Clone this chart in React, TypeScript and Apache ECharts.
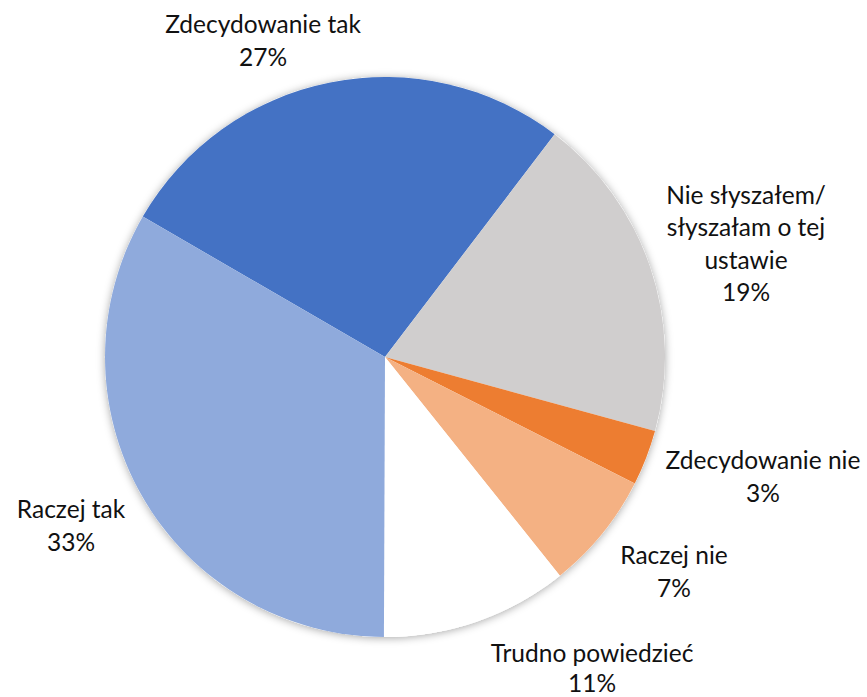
import React, { useEffect, useRef } from "react";
import * as echarts from "echarts";

const categories = [
  "Zdecydowanie tak",
  "Nie słyszałem/\nsłyszałam o tej\nustawie",
  "Zdecydowanie nie",
  "Raczej nie",
  "Trudno powiedzieć",
  "Raczej tak",
];
const values = [27.0, 18.9, 3.2, 6.8, 10.8, 33.3];
const colors = ["#4472C4", "#D0CECE", "#ED7D31", "#F4B183", "#FFFFFF", "#8FAADC"];

// label block centres relative to pie centre (layout only)
const labelOffsets: [number, number][] = [
  [-122, -317],
  [361, -114],
  [378, 119],
  [289, 214],
  [207, 310],
  [-314, 168],
];
const labelLineHeights = [32.5, 32.5, 32.5, 32.5, 30, 32.5];

const CX = 385;
const CY = 357;
const R = 280;

export default function App() {
  const ref = useRef<HTMLDivElement>(null);
  useEffect(() => {
    document.body.style.margin = "0";
    if (!ref.current) return;
    const chart = echarts.init(ref.current, undefined, { renderer: "svg" });
    const total = values.reduce((a, b) => a + b, 0);
    chart.setOption({
      animation: false,
      backgroundColor: "#ffffff",
      series: [
        {
          type: "pie",
          silent: true,
          z: 1,
          center: [CX, CY],
          radius: R,
          label: { show: false },
          labelLine: { show: false },
          itemStyle: {
            color: "#ffffff",
            shadowBlur: 9,
            shadowColor: "rgba(0,0,0,0.35)",
            shadowOffsetX: 0,
            shadowOffsetY: 1,
          },
          data: [{ value: total, name: "" }],
        },
        {
          type: "pie",
          z: 2,
          center: [CX, CY],
          radius: R,
          startAngle: 149.9,
          clockwise: true,
          percentPrecision: 0,
          itemStyle: { borderWidth: 0 },
          labelLine: { show: false },
          label: {
            show: true,
            position: "outside",
            formatter: "{b}\n{d}%",
            fontFamily: "Lato",
            fontSize: 24.5,
            lineHeight: 32.5,
            width: 260,
            overflow: "none",
            color: "#111111",
          },
          labelLayout: (params: any) => {
            const off = labelOffsets[params.dataIndex];
            return {
              x: CX + off[0],
              y: CY + off[1],
              align: "center",
              verticalAlign: "middle",
            };
          },
          data: categories.map((name, i) => ({
            name,
            value: values[i],
            itemStyle: { color: colors[i] },
            label: { lineHeight: labelLineHeights[i] },
          })),
        },
      ],
    });
    return () => chart.dispose();
  }, []);
  return <div ref={ref} style={{ width: 867, height: 697 }} />;
}
